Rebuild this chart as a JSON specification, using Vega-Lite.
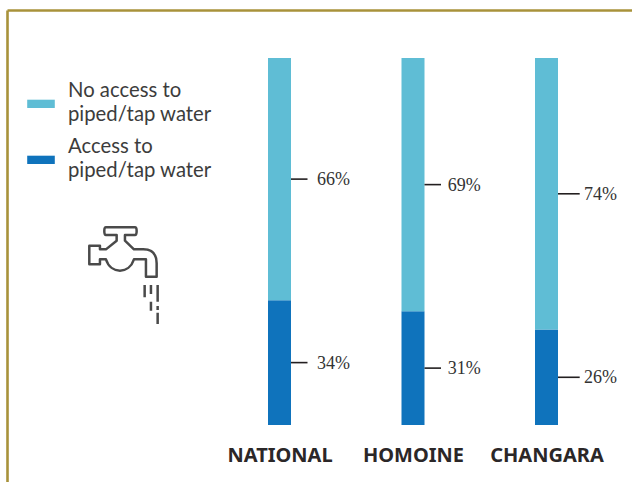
{
  "$schema": "https://vega.github.io/schema/vega-lite/v6.json",
  "width": 632,
  "height": 367,
  "autosize": "none",
  "padding": {"left": 0, "right": 0, "top": 58, "bottom": 57},
  "background": "white",
  "view": {"stroke": null},
  "config": {
    "font": "Lato",
    "legend": {"labelFont": "Lato"}
  },
  "datasets": {
    "access": [
      {"site": "NATIONAL", "status": "Access to piped/tap water", "rank": 1, "share": 0.34},
      {"site": "NATIONAL", "status": "No access to piped/tap water", "rank": 2, "share": 0.66},
      {"site": "HOMOINE", "status": "Access to piped/tap water", "rank": 1, "share": 0.31},
      {"site": "HOMOINE", "status": "No access to piped/tap water", "rank": 2, "share": 0.69},
      {"site": "CHANGARA", "status": "Access to piped/tap water", "rank": 1, "share": 0.26},
      {"site": "CHANGARA", "status": "No access to piped/tap water", "rank": 2, "share": 0.74}
    ],
    "decoration": [{"item": "frame and tap"}]
  },
  "resolve": {"scale": {"x": "independent"}},
  "layer": [
    {
      "data": {"name": "access"},
      "mark": {"type": "bar", "size": 23},
      "encoding": {
        "x": {
          "field": "site",
          "type": "nominal",
          "scale": {"type": "point", "padding": 0, "domain": ["NATIONAL", "HOMOINE", "CHANGARA"], "range": [279.5, 546.5]},
          "axis": {
            "title": null,
            "domain": false,
            "ticks": false,
            "grid": false,
            "labelAngle": 0,
            "labelPadding": 20,
            "labelFont": "Noto Sans",
            "labelFontWeight": "bold",
            "labelFontSize": 20,
            "labelColor": "#2b2728",
            "labelOverlap": false,
            "labelLimit": 200
          }
        },
        "y": {
          "field": "share",
          "type": "quantitative",
          "stack": "zero",
          "scale": {"domain": [0, 1], "nice": false},
          "axis": null
        },
        "order": {"field": "rank", "type": "ordinal"},
        "color": {
          "field": "status",
          "type": "nominal",
          "scale": {
            "domain": ["No access to piped/tap water", "Access to piped/tap water"],
            "range": ["#5FBDD5", "#0F73BC"]
          },
          "legend": {
            "title": null,
            "orient": "none",
            "legendX": 27,
            "legendY": 19,
            "symbolType": "M-1,0.63H1V1.23H-1Z",
            "symbolSize": 762,
            "symbolStrokeWidth": 0,
            "symbolOpacity": 1,
            "labelFontSize": 20.3,
            "labelColor": "#3c3c3c",
            "labelOffset": 13,
            "labelLimit": 300,
            "rowPadding": 7,
            "labelExpr": "[slice(datum.label, 0, indexof(datum.label, 'piped') - 1), slice(datum.label, indexof(datum.label, 'piped'))]",
            "encode": {"labels": {"update": {"lineHeight": {"value": 24}}}}
          }
        }
      }
    },
    {
      "data": {"name": "access"},
      "transform": [
        {"stack": "share", "groupby": ["site"], "sort": [{"field": "rank"}], "as": ["low", "high"]},
        {"fold": ["low", "high"], "as": ["edge", "bound"]},
        {"aggregate": [{"op": "mean", "field": "bound", "as": "middle"}, {"op": "min", "field": "share", "as": "share"}], "groupby": ["site", "status"]}
      ],
      "layer": [
        {
          "mark": {
            "type": "rule",
            "color": "#231f20",
            "strokeWidth": 1.6,
            "xOffset": 11.5,
            "x2Offset": {"expr": "datum.site === 'CHANGARA' ? 33.2 : 28"}
          },
          "encoding": {
            "x": {
              "field": "site",
              "type": "nominal",
              "scale": {"type": "point", "padding": 0, "domain": ["NATIONAL", "HOMOINE", "CHANGARA"], "range": [279.5, 546.5]},
              "axis": null
            },
            "x2": {"field": "site"},
            "y": {"field": "middle", "type": "quantitative", "scale": {"domain": [0, 1], "nice": false}, "axis": null}
          }
        },
        {
          "mark": {
            "type": "text",
            "font": "Liberation Serif",
            "fontSize": 18,
            "color": "#333333",
            "align": "left",
            "baseline": "middle",
            "dy": 1,
            "dx": {"expr": "datum.site === 'HOMOINE' ? 34.8 : 37.5"}
          },
          "encoding": {
            "x": {
              "field": "site",
              "type": "nominal",
              "scale": {"type": "point", "padding": 0, "domain": ["NATIONAL", "HOMOINE", "CHANGARA"], "range": [279.5, 546.5]},
              "axis": null
            },
            "y": {"field": "middle", "type": "quantitative", "scale": {"domain": [0, 1], "nice": false}, "axis": null},
            "text": {"field": "share", "type": "quantitative", "format": ".0%"}
          }
        }
      ]
    },
    {
      "data": {"name": "decoration"},
      "mark": {
        "type": "point",
        "filled": false,
        "size": 10000,
        "opacity": 1,
        "color": "#4a4a4a",
        "strokeWidth": 2.5,
        "strokeJoin": "round",
        "shape": "M-0.133,-0.8L-0.133,-0.687L-0.347,-0.513L-0.467,-0.513L-0.467,-0.587L-0.68,-0.587L-0.68,-0.213L-0.467,-0.213L-0.467,-0.313L-0.347,-0.313C-0.25,-0.012 0.116,-0.012 0.213,-0.313L0.453,-0.313L0.453,0.033L0.667,0.033L0.667,-0.233Q0.667,-0.513 0.4,-0.513L0.213,-0.513L0.033,-0.687L0.033,-0.8L0.233,-0.8Q0.267,-0.8 0.267,-0.88Q0.267,-0.953 0.233,-0.953L-0.347,-0.953Q-0.38,-0.953 -0.38,-0.88Q-0.38,-0.8 -0.347,-0.8ZM0.427,0.2V0.447M0.553,0.2V0.38M0.553,0.533V0.713M0.687,0.2V0.533M0.687,0.62V0.7M0.687,0.753V0.98"
      },
      "encoding": {
        "x": {"datum": 123.3, "type": "quantitative", "scale": {"domain": [0, 632], "nice": false}, "axis": null},
        "y": {"datum": 0.4087, "type": "quantitative", "scale": {"domain": [0, 1], "nice": false}, "axis": null}
      }
    },
    {
      "data": {"name": "decoration"},
      "mark": {"type": "rule", "color": "#A8923A", "strokeWidth": 2.6},
      "encoding": {
        "x": {"datum": 7.5, "type": "quantitative", "scale": {"domain": [0, 632], "nice": false}, "axis": null},
        "y": {"datum": 1.1294, "type": "quantitative", "scale": {"domain": [0, 1], "nice": false}, "axis": null},
        "y2": {"datum": -0.1553}
      }
    },
    {
      "data": {"name": "decoration"},
      "mark": {"type": "rule", "color": "#A8923A", "strokeWidth": 2.6},
      "encoding": {
        "x": {"datum": 7.5, "type": "quantitative", "scale": {"domain": [0, 632], "nice": false}, "axis": null},
        "x2": {"datum": 632},
        "y": {"datum": 1.1294, "type": "quantitative", "scale": {"domain": [0, 1], "nice": false}, "axis": null}
      }
    }
  ]
}
